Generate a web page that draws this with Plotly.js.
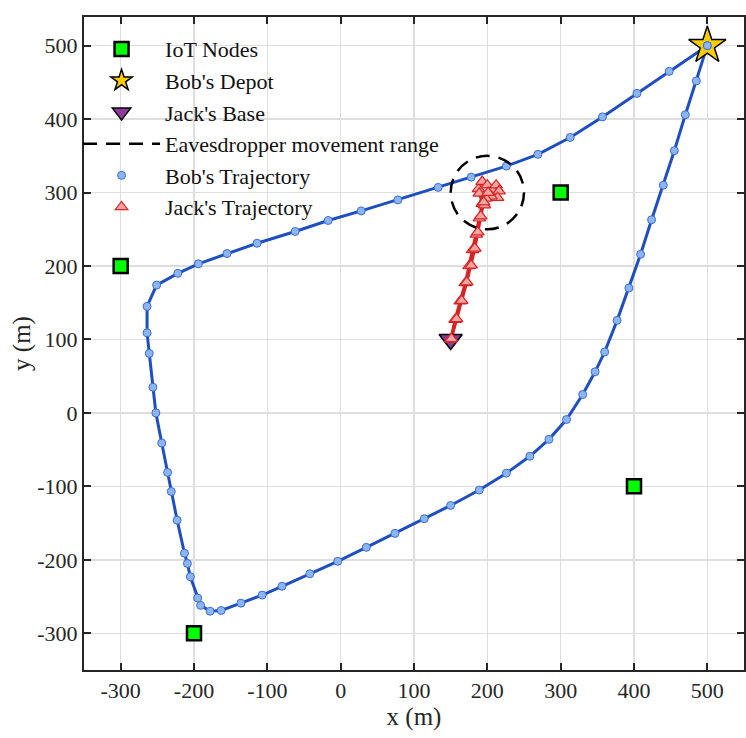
<!DOCTYPE html>
<html>
<head>
<meta charset="utf-8">
<script src="https://cdn.plot.ly/plotly-3.0.1.min.js"></script>
<style>html,body{margin:0;padding:0;background:#fff;}#chart{width:746px;height:738px;}</style>
</head>
<body>
<div id="chart"></div>
<script>
// IoT nodes
const iotX = [-300, -200, 300, 400];
const iotY = [200, -300, 300, -100];
// Bob's depot
const depotX = [500];
const depotY = [500];
// Jack's base
const baseX = [150];
const baseY = [100];
// Eavesdropper movement range (circle centre and radius)
const rangeCenter = [200, 300];
const rangeRadius = 50;
// Bob's trajectory
const bobX = [500, 448, 404, 357, 313, 269, 226, 178, 133, 78, 28, -17, -62, -114, -155, -194, -222, -251, -264, -264, -261, -256, -252, -244, -236, -231, -223, -213, -209, -205, -195, -191, -178, -163, -136, -107, -80, -42, -4, 35, 74, 114, 150, 189, 226, 258, 284, 308, 330, 347, 360, 377, 393, 409, 424, 440, 455, 470, 485, 500];
const bobY = [500, 465, 435, 403, 375, 352, 336, 321, 307, 290, 275, 262, 247, 231, 217, 203, 190, 174, 145, 109, 81, 35, 0, -41, -81, -107, -146, -191, -205, -223, -252, -262, -270, -269, -259, -248, -236, -219, -202, -183, -164, -144, -126, -105, -82, -59, -36, -9, 25, 56, 83, 126, 170, 216, 263, 310, 357, 406, 452, 500];
// Jack's trajectory
const jackX = [150, 156, 163, 170, 175, 180, 185, 189, 193, 188, 193, 200, 207, 212, 216, 214, 205, 198, 189, 196, 201, 195, 191, 187, 183, 178, 172, 165, 158, 151];
const jackY = [100, 127, 152, 177, 200, 222, 243, 265, 285, 305, 315, 310, 304, 310, 302, 293, 295, 292, 299, 283, 300, 287, 268, 246, 224, 201, 178, 153, 128, 101];
// Tick labels
const tickVals = [-300, -200, -100, 0, 100, 200, 300, 400, 500];
const tickText = ['-300', '-200', '-100', '0', '100', '200', '300', '400', '500'];

const FONT = 'Liberation Serif, Times New Roman, serif';

const traces = [
  {x: bobX, y: bobY, mode: 'lines', line: {color: '#1f4fbf', width: 3}, showlegend: false, hoverinfo: 'skip'},
  {x: jackX, y: jackY, mode: 'lines', line: {color: '#d62424', width: 3}, showlegend: false, hoverinfo: 'skip'},
  {x: iotX, y: iotY, mode: 'markers', name: 'IoT Nodes', legendrank: 1,
   marker: {symbol: 'square', size: 14, color: '#00ff00', line: {color: '#000', width: 2.5}}},
  {x: depotX, y: depotY, mode: 'markers', name: "Bob's Depot", legendrank: 2,
   marker: {symbol: 'star', size: 28, color: '#ffcc00', line: {color: '#000', width: 1.5}}},
  {x: baseX, y: baseY, mode: 'markers', name: "Jack's Base", legendrank: 3,
   marker: {symbol: 'triangle-down', size: 20, color: '#8e3a98', line: {color: '#000', width: 1.5}}},
  {x: [null], y: [null], mode: 'lines', name: 'Eavesdropper movement range', legendrank: 4,
   line: {color: '#000', width: 2.5, dash: '14px,9px'}},
  {x: bobX, y: bobY, mode: 'markers', name: "Bob's Trajectory", legendrank: 5,
   marker: {symbol: 'circle', size: 8, color: '#8db5f2', line: {color: '#3a6ed4', width: 1}}},
  {x: jackX, y: jackY, mode: 'markers', name: "Jack's Trajectory", legendrank: 6,
   marker: {symbol: 'triangle-up', size: 11, color: '#f5a3a3', line: {color: '#d62424', width: 1.2}}}
];

const axisCommon = {
  showgrid: true, gridcolor: '#dedede', gridwidth: 1.5,
  zeroline: false, showline: true, linecolor: '#262626', linewidth: 2, mirror: 'ticks',
  ticks: 'inside', ticklen: 7, tickwidth: 2, tickcolor: '#262626',
  tickfont: {family: FONT, size: 22, color: '#262626'},
  tickmode: 'array', tickvals: tickVals, ticktext: tickText
};

const layout = {
  width: 746, height: 738,
  margin: {l: 84, r: 2, t: 17, b: 68},
  paper_bgcolor: '#fff', plot_bgcolor: '#fff',
  font: {family: FONT, color: '#262626'},
  xaxis: Object.assign({}, axisCommon, {range: [-350, 550],
    title: {text: 'x (m)', font: {family: FONT, size: 25, color: '#262626'}, standoff: 4}}),
  yaxis: Object.assign({}, axisCommon, {range: [-350, 539],
    title: {text: 'y (m)', font: {family: FONT, size: 25, color: '#262626'}, standoff: 0}}),
  shapes: [{type: 'circle', xref: 'x', yref: 'y',
    x0: rangeCenter[0] - rangeRadius, x1: rangeCenter[0] + rangeRadius,
    y0: rangeCenter[1] - rangeRadius, y1: rangeCenter[1] + rangeRadius,
    line: {color: '#000', width: 2.5, dash: '14px,9px'}, layer: 'above'}],
  legend: {x: -0.009, y: 0.983, xanchor: 'left', yanchor: 'top', bgcolor: 'rgba(0,0,0,0)', borderwidth: 0,
    font: {family: FONT, size: 22, color: '#111'}, itemwidth: 77, traceorder: 'normal'},
  showlegend: true
};

Plotly.newPlot('chart', traces, layout, {displayModeBar: false, staticPlot: true});
</script>
</body>
</html>
